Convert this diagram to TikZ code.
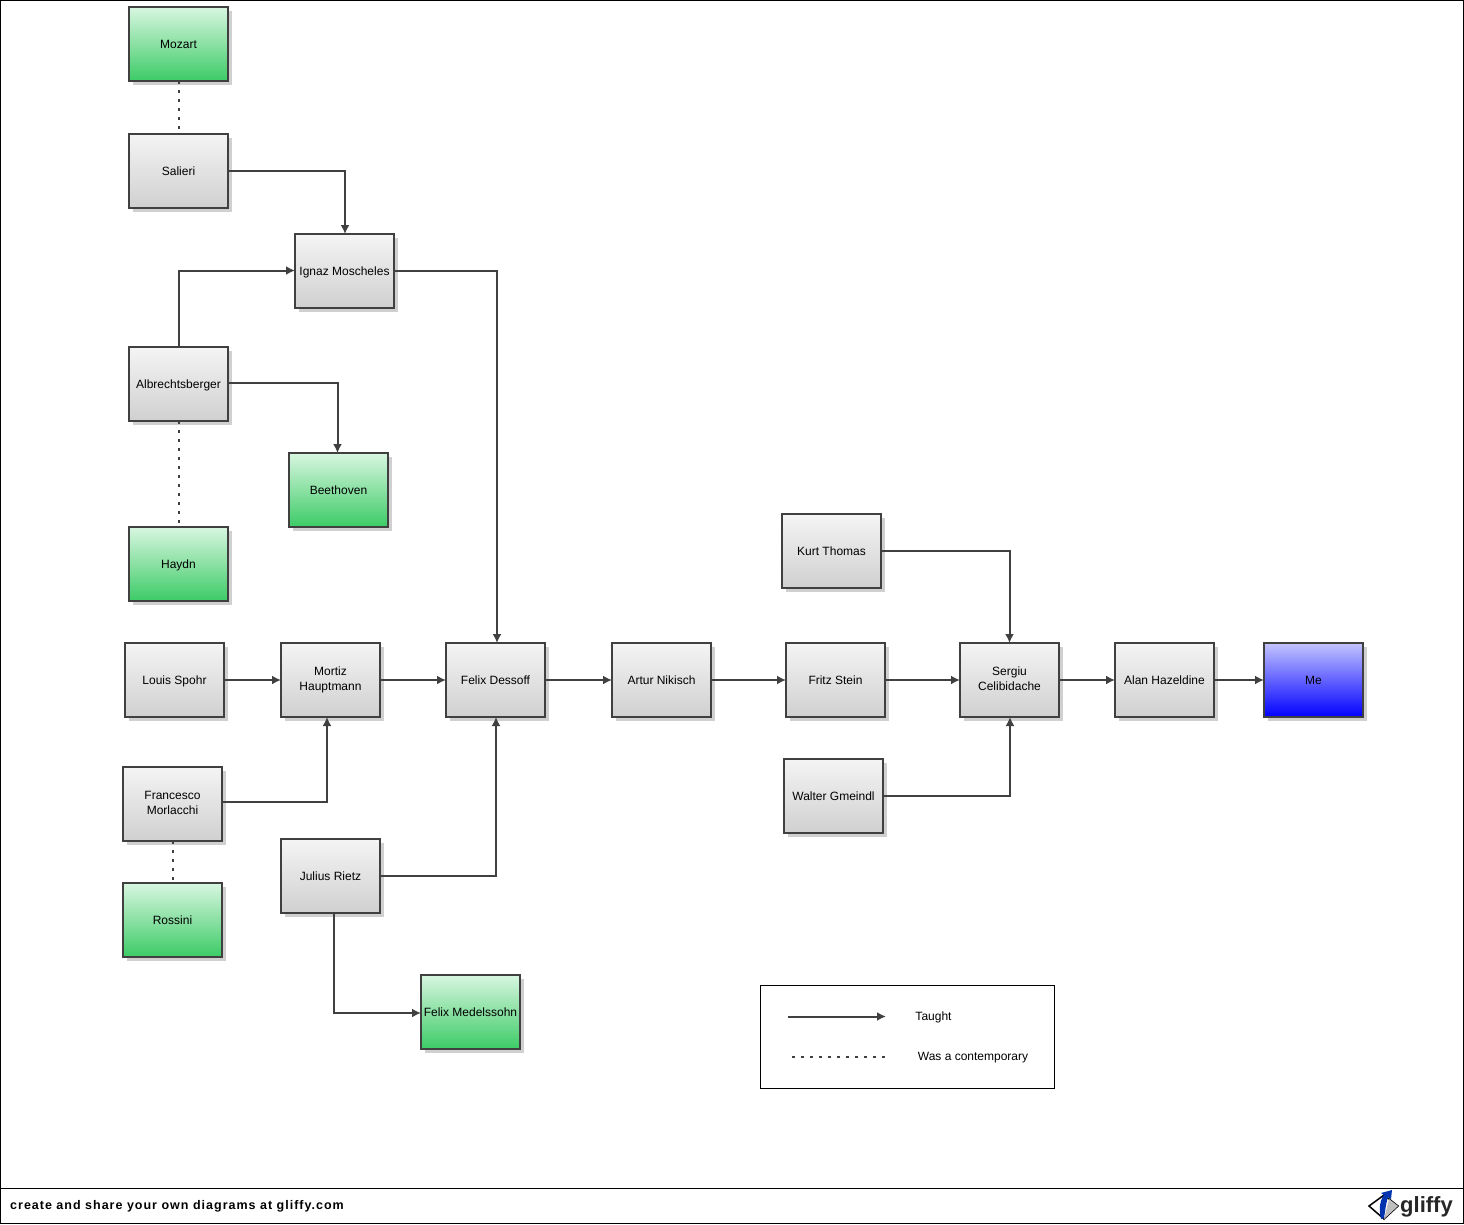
\documentclass[tikz,border=0pt]{standalone}
\usepackage{fontspec}
\setmainfont{Liberation Sans}
\usetikzlibrary{arrows.meta,shadows}

\definecolor{linegray}{HTML}{404040}
\definecolor{shadowgray}{HTML}{D0D0D0}
\definecolor{greentop}{HTML}{D8F6E0}
\definecolor{greenbottom}{HTML}{3CCB66}
\definecolor{graytop}{HTML}{F4F4F4}
\definecolor{graybottom}{HTML}{D0D0D0}
\definecolor{bluetop}{HTML}{C4C4FF}

\tikzset{
  person/.style={draw=linegray, line width=2pt, minimum width=99pt, minimum height=74pt,
    inner sep=0pt, outer sep=0pt, align=center, font=\fontsize{12}{14.5}\selectfont,
    execute at end node={\rule[-2.5pt]{0pt}{13pt}},
    top color=#1, drop shadow={shadow xshift=4pt, shadow yshift=-4pt, fill=shadowgray, opacity=1}},
  teacher/.style={person=graytop, bottom color=graybottom},
  composer/.style={person=greentop, bottom color=greenbottom},
  taught/.style={draw=linegray, line width=2pt, -{Latex[length=9pt,width=9pt]}},
  contemporary/.style={draw=linegray, line width=2pt, dash pattern=on 2.5pt off 6.5pt},
  caption/.style={font=\fontsize{12}{14}\selectfont, inner sep=0pt}
}

\begin{document}
\begin{tikzpicture}[x=1pt, y=-1pt]
    \useasboundingbox (0,0) rectangle (1464,1224);
    \draw[black, line width=1pt] (0.5,0.5) rectangle (1463.5,1223.5);
    \draw[black, line width=1pt] (0,1188.5) to (1464,1188.5);

    \node[composer] (mozart) at (178.5,44){Mozart};
    \node[teacher] (salieri) at (178.5,171){Salieri};
    \node[teacher] (moscheles) at (344.5,271){Ignaz Moscheles};
    \node[teacher] (albrechtsberger) at (178.5,384){Albrechtsberger};
    \node[composer] (beethoven) at (338.5,490){Beethoven};
    \node[composer] (haydn) at (178.5,564){Haydn};

    \node[teacher] (spohr) at (174.5,680){Louis Spohr};
    \node[teacher] (hauptmann) at (330.5,680){Mortiz\\Hauptmann};
    \node[teacher] (dessoff) at (495.5,680){Felix Dessoff};
    \node[teacher] (nikisch) at (661.5,680){Artur Nikisch};
    \node[teacher] (stein) at (835.5,680){Fritz Stein};
    \node[teacher] (celibidache) at (1009.5,680){Sergiu\\Celibidache};
    \node[teacher] (hazeldine) at (1164.5,680){Alan Hazeldine};
    \node[person=bluetop, bottom color=blue] (me) at (1313.5,680){Me};

    \node[teacher] (thomas) at (831.5,551){Kurt Thomas};
    \node[teacher] (gmeindl) at (833.5,796){Walter Gmeindl};
    \node[teacher] (morlacchi) at (172.5,804){Francesco\\Morlacchi};
    \node[composer] (rossini) at (172.5,920){Rossini};
    \node[teacher] (rietz) at (330.5,876){Julius Rietz};
    \node[composer] (mendelssohn) at (470.5,1012){Felix Medelssohn};

    \draw[contemporary] (mozart) to (salieri);
    \draw[contemporary] (albrechtsberger) to (haydn);
    \draw[contemporary] (morlacchi) to (rossini);

    \draw[taught] ([yshift=0.5pt]salieri.east) -| ([xshift=0.5pt]moscheles.north);
    \draw[taught] (albrechtsberger.north) |- ([yshift=0.5pt]moscheles.west);
    \draw[taught] ([yshift=0.5pt]moscheles.east) -| ([xshift=1.5pt]dessoff.north);
    \draw[taught] ([yshift=1pt]albrechtsberger.east) -| ([xshift=-1pt]beethoven.north);
    \draw[taught] (spohr) to (hauptmann);
    \draw[taught] (hauptmann) to (dessoff);
    \draw[taught] (dessoff) to (nikisch);
    \draw[taught] (nikisch) to (stein);
    \draw[taught] (stein) to (celibidache);
    \draw[taught] (celibidache) to (hazeldine);
    \draw[taught] (hazeldine) to (me);
    \draw[taught] ([yshift=2pt]morlacchi.east) -| ([xshift=-3.5pt]hauptmann.south);
    \draw[taught] (rietz.east) -| ([xshift=0.5pt]dessoff.south);
    \draw[taught] ([xshift=3pt]rietz.south) |- ([yshift=-1pt]mendelssohn.west);
    \draw[taught] (thomas.east) -| (celibidache.north);
    \draw[taught] (gmeindl.east) -| ([xshift=0.5pt]celibidache.south);

    \node[draw=black, line width=1pt, fill=white, minimum width=294pt, minimum height=103pt, inner sep=0pt] (legend) at (907.5,1036.5){};
    \coordinate (taughtstart) at (788,1016.5);
    \coordinate (taughtend) at (886,1016.5);
    \coordinate (contemporarystart) at (792,1057);
    \coordinate (contemporaryend) at (888,1057);
    \draw[taught] (taughtstart) to (taughtend);
    \draw[contemporary] (contemporarystart) to (contemporaryend);
    \node[caption] (taughtlabel) at (933.5,1017.5){Taught};
    \node[caption] (contemporarylabel) at (973,1058){Was a contemporary};

    \node[caption, font=\fontsize{12.5}{14}\selectfont\bfseries\addfontfeature{LetterSpace=8}, anchor=west] (footer) at (10,1206){create and share your own diagrams at gliffy.com};

    \draw[black, line width=1.5pt] (1369,1206) -- (1384,1195) -- (1398,1206) -- (1384,1219) -- cycle;
    \fill[black!25] (1384,1219) -- (1398,1206) -- (1389,1199) -- cycle;
    \fill[blue!60!black!80!cyan] (1381,1219) .. controls (1378,1208) and (1381,1198) .. (1384,1195) -- (1381,1193) -- (1392,1190) -- (1391,1199) -- (1388,1197) .. controls (1386,1203) and (1385,1212) .. (1384,1218) -- cycle;
    \node[inner sep=0pt, font=\fontsize{22}{22}\selectfont\bfseries, text=black!85, anchor=west] (logo) at (1400,1207){gliffy};

\end{tikzpicture}
\end{document}
